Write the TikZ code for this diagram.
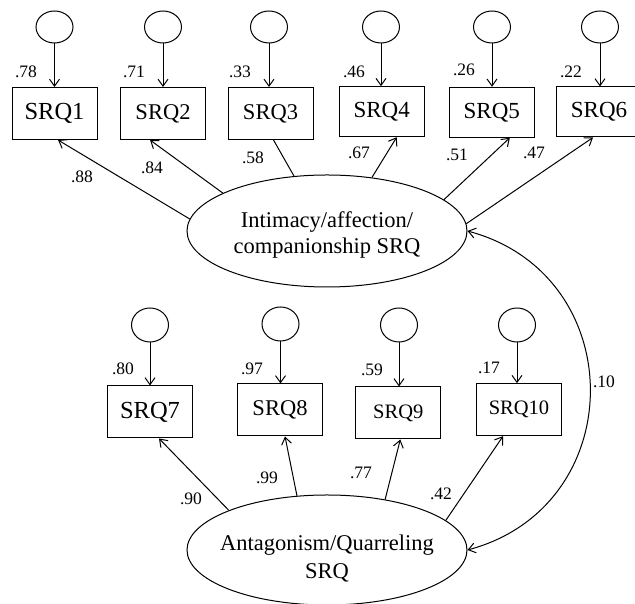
\documentclass[tikz,border=0pt]{standalone}
\usepackage{fontspec}
\setmainfont{Liberation Serif}
\usetikzlibrary{shapes.geometric,arrows.meta}
\newcommand{\fsz}[1]{\fontsize{#1}{#1}\selectfont}
\begin{document}
\begin{tikzpicture}[x=1pt,y=1pt,line width=1pt,
  obs/.style={draw, rectangle, minimum width=85pt, minimum height=52pt, inner sep=0pt, font=\fsz{22.5}},
  err/.style={draw, ellipse, minimum width=37pt, minimum height=32pt, inner sep=0pt},
  errb/.style={err, minimum height=34pt},
  lat/.style={draw, ellipse, minimum width=280pt, inner sep=0pt},
  lbl/.style={font=\fsz{17.5}, inner sep=0pt},
  arr/.style={-{Straight Barb[length=7pt,width=10pt]}},
  darr/.style={{Straight Barb[length=7pt,width=10pt]}-{Straight Barb[length=7pt,width=10pt]}}]
\fill[white] (0,0) rectangle (635,604);
\useasboundingbox (0,0) rectangle (635,604);

% latent variables
\node[lat, minimum height=112pt] (e1) at (327,373) {};
\node[font=\fontsize{22.5}{26}\selectfont, align=center, inner sep=0pt] (t1) at (327,369) {Intimacy/affection/\\companionship SRQ};
\node[lat, minimum height=110pt] (e2) at (327,54) {};
\node[font=\fontsize{22.5}{28}\selectfont, align=center, inner sep=0pt] (t2) at (327,45) {Antagonism/Quarreling\\SRQ};

% observed, top row
\node[obs, font=\fsz{24.5}] (b1) at (54.5,490.5) {SRQ1};
\node[obs, font=\fsz{22.5}] (b2) at (163,490.5) {SRQ2};
\node[obs, font=\fsz{22.5}] (b3) at (270.5,490.5) {SRQ3};
\node[obs, font=\fsz{23}, minimum height=50pt] (b4) at (381.7,492.3) {SRQ4};
\node[obs, font=\fsz{23}, minimum height=50pt] (b5) at (491.8,491.7) {SRQ5};
\node[obs, font=\fsz{23}, minimum height=50pt] (b6) at (599,492) {SRQ6};

% observed, bottom row
\node[obs, font=\fsz{24.5}] (b7) at (150,192) {SRQ7};
\node[obs, font=\fsz{22.5}] (b8) at (280,194) {SRQ8};
\node[obs, font=\fsz{20.5}] (b9) at (398.3,191) {SRQ9};
\node[obs, font=\fsz{20.5}] (b10) at (519,194.3) {SRQ10};

% error terms
\node[err] (c1) at (54.5,577) {};
\node[err] (c2) at (163,577) {};
\node[err] (c3) at (269,577) {};
\node[err] (c4) at (381,577) {};
\node[err] (c5) at (492,577) {};
\node[err] (c6) at (600,577) {};
\node[errb] (c7) at (150,279) {};
\node[errb] (c8) at (280.5,280) {};
\node[errb] (c9) at (399,279) {};
\node[errb] (c10) at (517,279) {};

% error arrows
\foreach \i in {1,...,10} {
  \draw[arr] (c\i.south) -- (c\i.south |- b\i.north);
}

% loadings, factor 1
\draw[arr] (e1.175.4) -- ([xshift=3.5pt]b1.south);
\draw[arr] (e1.160.6) -- ([xshift=-13pt]b2.south);
\draw (e1.121.3) -- ([xshift=3pt]b3.south);
\draw[arr] (e1.50.8) -- ([xshift=15pt]b4.south);
\draw[arr] (e1.15.3) -- ([xshift=18pt]b5.south);
\draw[arr] (e1.3.3) -- ([xshift=-6pt]b6.south);

% loadings, factor 2
\draw[arr] (e2.158.3) -- ([xshift=9pt]b7.south);
\draw[arr] (e2.119.4) -- ([xshift=5pt]b8.south);
\draw[arr] (e2.41.7) -- ([xshift=2pt]b9.south);
\draw[arr] (e2.14.5) -- ([xshift=-16pt]b10.south);

% covariance
\draw[darr] (e1.east) to[out=-15,in=15,looseness=1.36] (e2.east);

% labels: error variances
\node[lbl] (l1) at (26,532) {.78};
\node[lbl] (l2) at (134,532) {.71};
\node[lbl] (l3) at (240,532) {.33};
\node[lbl] (l4) at (354,532) {.46};
\node[lbl] (l5) at (464,534) {.26};
\node[lbl] (l6) at (571,532) {.22};
\node[lbl] (l7) at (123,235) {.80};
\node[lbl] (l8) at (252,235) {.97};
\node[lbl] (l9) at (372,234) {.59};
\node[lbl] (l10) at (489,236) {.17};

% labels: loadings
\node[lbl] (m1) at (82,427) {.88};
\node[lbl] (m2) at (152,436) {.84};
\node[lbl] (m3) at (253,446) {.58};
\node[lbl] (m4) at (359,451) {.67};
\node[lbl] (m5) at (457,449) {.51};
\node[lbl] (m6) at (534,451) {.47};
\node[lbl] (m7) at (191,105) {.90};
\node[lbl] (m8) at (267,126) {.99};
\node[lbl] (m9) at (361,131) {.77};
\node[lbl] (m10) at (441,110) {.42};
\node[lbl] (cv) at (604,222) {.10};
\end{tikzpicture}
\end{document}
